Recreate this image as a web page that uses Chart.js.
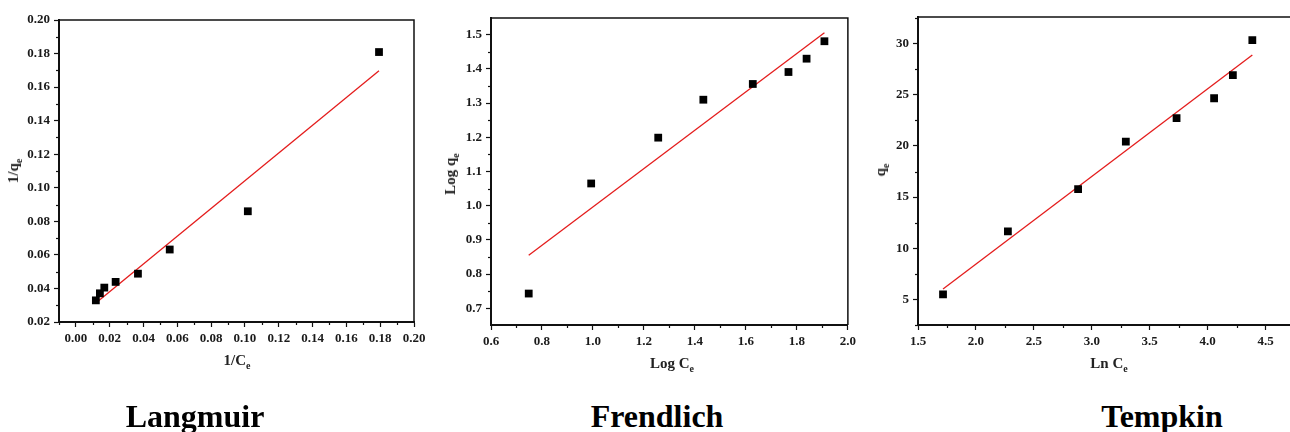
<!DOCTYPE html>
<html>
<head>
<meta charset="utf-8">
<script src="https://cdn.jsdelivr.net/npm/chart.js@4/dist/chart.umd.min.js"></script>
<style>
    body { margin: 0; width: 1290px; height: 432px; overflow: hidden; background: #fff; position: relative; font-family: "Liberation Serif", serif; }
    canvas { position: absolute; top: 0; }
    .axis-title { position: absolute; font-weight: bold; font-size: 15px; color: #222; white-space: nowrap; line-height: 16px; }
    .axis-title sub { font-size: 10px; }
    .y-title { transform: translate(-50%, -50%) rotate(-90deg); }
    .x-title { transform: translate(-50%, -50%); }
    .model { position: absolute; top: 398px; font-weight: bold; font-size: 32px; color: #000; transform: translateX(-50%); line-height: 36px; }
</style>
</head>
<body>
<canvas id="langmuirChart" width="430" height="380" style="left:0"></canvas>
<canvas id="frendlichChart" width="430" height="380" style="left:430px"></canvas>
<canvas id="tempkinChart" width="440" height="380" style="left:860px"></canvas>

<div class="axis-title x-title" style="left:237px; top:363px">1/C<sub>e</sub></div>
<div class="axis-title y-title" style="left:16px; top:171px">1/q<sub>e</sub></div>
<div class="axis-title x-title" style="left:672px; top:366px">Log C<sub>e</sub></div>
<div class="axis-title y-title" style="left:453px; top:174px">Log q<sub>e</sub></div>
<div class="axis-title x-title" style="left:1109px; top:366px">Ln C<sub>e</sub></div>
<div class="axis-title y-title" style="left:883px; top:170px">q<sub>e</sub></div>

<div class="model" style="left:195px">Langmuir</div>
<div class="model" style="left:657px">Frendlich</div>
<div class="model" style="left:1162px">Tempkin</div>

<script>
// Langmuir : 1/qe en fonction de 1/Ce
const langmuirX = [0.0118, 0.0142, 0.0168, 0.0235, 0.0367, 0.0555, 0.1017, 0.1793];
const langmuirY = [0.0329, 0.0371, 0.0405, 0.0439, 0.0488, 0.0632, 0.0860, 0.1809];
const langmuirFitX = [0.0118, 0.1793];
const langmuirFitY = [0.0313, 0.1698];

// Freundlich : Log qe en fonction de Log Ce
const frendlichX = [0.748, 0.993, 1.256, 1.433, 1.627, 1.767, 1.838, 1.908];
const frendlichY = [0.743, 1.065, 1.199, 1.310, 1.356, 1.391, 1.430, 1.481];
const frendlichFitX = [0.748, 1.908];
const frendlichFitY = [0.855, 1.506];

// Temkin : qe en fonction de Ln Ce
const tempkinX = [1.716, 2.276, 2.882, 3.294, 3.732, 4.056, 4.218, 4.386];
const tempkinY = [5.49, 11.64, 15.77, 20.43, 22.71, 24.66, 26.91, 30.33];
const tempkinFitX = [1.716, 4.386];
const tempkinFitY = [6.01, 28.89];

const tickFont = { family: 'Liberation Serif', size: 13, weight: 'bold' };

// petites graduations entre les graduations principales + cadre du graphique
const frameAndMinorTicks = {
    id: 'frameAndMinorTicks',
    afterDraw(chart) {
        const { ctx, chartArea } = chart;
        ctx.save();
        ctx.strokeStyle = '#111';
        ctx.lineWidth = 1.5;
        ctx.beginPath();
        ctx.moveTo(chartArea.left, chartArea.top);
        ctx.lineTo(chartArea.right, chartArea.top);
        ctx.lineTo(chartArea.right, chartArea.bottom);
        ctx.stroke();

        ctx.lineWidth = 1.2;
        ['x', 'y'].forEach(id => {
            const scale = chart.scales[id];
            const ticks = scale.ticks.map(t => t.value);
            if (ticks.length < 2) return;
            const step = ticks[1] - ticks[0];
            const mids = [ticks[0] - step / 2];
            ticks.forEach(v => mids.push(v + step / 2));
            mids.forEach(v => {
                if (v < scale.min - 1e-9 || v > scale.max + 1e-9) return;
                const p = Math.round(scale.getPixelForValue(v)) + 0.5;
                ctx.beginPath();
                if (id === 'x') {
                    ctx.moveTo(p, chartArea.bottom);
                    ctx.lineTo(p, chartArea.bottom + 3);
                } else {
                    ctx.moveTo(chartArea.left, p);
                    ctx.lineTo(chartArea.left - 3, p);
                }
                ctx.stroke();
            });
        });
        ctx.restore();
    }
};

function axis(min, max, step, decimals, size, isX) {
    return {
        type: 'linear',
        min: min,
        max: max,
        afterFit(scale) {
            if (isX) scale.height = size; else scale.width = size;
        },
        border: { display: true, color: '#111', width: 2 },
        grid: { drawOnChartArea: false, drawTicks: true, tickLength: 5, tickColor: '#111', tickWidth: 1.2 },
        ticks: {
            stepSize: step,
            includeBounds: false,
            padding: 4,
            color: '#1a1a1a',
            font: tickFont,
            maxRotation: 0,
            autoSkip: false,
            callback: value => Number(value).toFixed(decimals)
        }
    };
}

function makeChart(canvasId, xs, ys, fitXs, fitYs, xAxis, yAxis, padding) {
    const ctx = document.getElementById(canvasId).getContext('2d');
    return new Chart(ctx, {
        type: 'scatter',
        data: {
            datasets: [{
                label: 'Expérience',
                data: xs.map((x, i) => ({ x: x, y: ys[i] })),
                pointStyle: 'rect',
                pointRadius: 5.5,
                backgroundColor: '#000',
                borderColor: '#000',
                borderWidth: 0
            }, {
                label: 'Ajustement linéaire',
                type: 'line',
                data: fitXs.map((x, i) => ({ x: x, y: fitYs[i] })),
                borderColor: 'rgb(228, 28, 28)',
                borderWidth: 1.3,
                pointRadius: 0,
                fill: false,
                tension: 0
            }]
        },
        options: {
            responsive: false,
            animation: false,
            layout: { padding: padding },
            plugins: { legend: { display: false }, tooltip: { enabled: false } },
            scales: { x: xAxis, y: yAxis }
        },
        plugins: [frameAndMinorTicks]
    });
}

document.addEventListener('DOMContentLoaded', () => {
    makeChart('langmuirChart', langmuirX, langmuirY, langmuirFitX, langmuirFitY,
        axis(-0.01, 0.20, 0.02, 2, 58, true),
        axis(0.02, 0.20, 0.02, 2, 59, false),
        { top: 20, right: 16, left: 0, bottom: 0 });

    makeChart('frendlichChart', frendlichX, frendlichY, frendlichFitX, frendlichFitY,
        axis(0.6, 2.0, 0.2, 1, 55, true),
        axis(0.651, 1.549, 0.1, 1, 61, false),
        { top: 18, right: 9, left: 0, bottom: 0 });

    makeChart('tempkinChart', tempkinX, tempkinY, tempkinFitX, tempkinFitY,
        axis(1.5, 4.75, 0.5, 1, 55, true),
        axis(2.5, 32.6, 5, 0, 58, false),
        { top: 17, right: 3, left: 0, bottom: 0 });
});
</script>
</body>
</html>
